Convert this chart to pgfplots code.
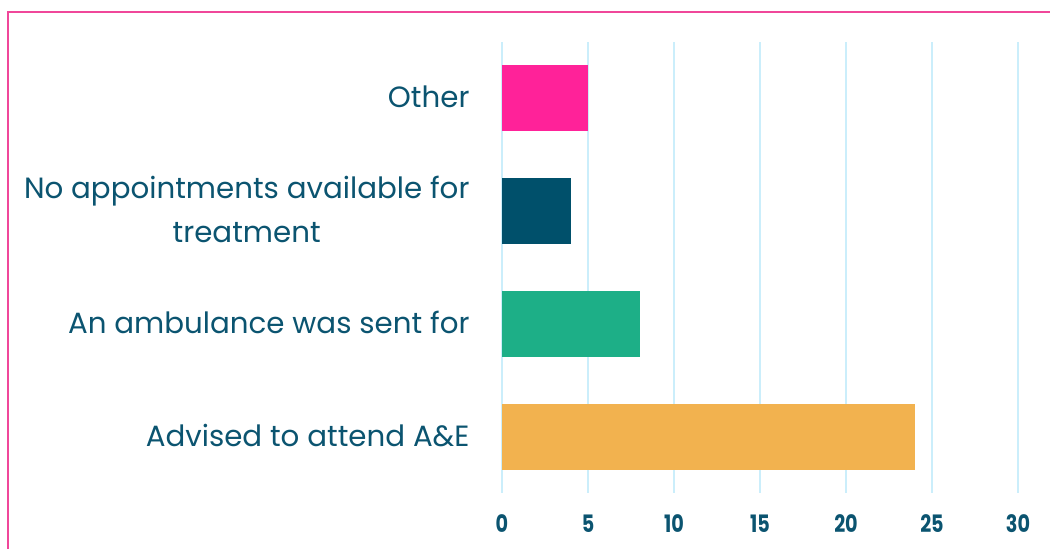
\documentclass[border=0pt]{standalone}
\usepackage{pgfplots}
\pgfplotsset{compat=1.18}
\usepackage{graphicx}
\usepackage{fontspec}
\setmainfont{Poppins}
\definecolor{txt}{HTML}{0B5470}
\definecolor{gridc}{HTML}{CBEEFB}
\definecolor{cpink}{HTML}{FF2299}
\definecolor{cnavy}{HTML}{00506B}
\definecolor{cgreen}{HTML}{1DAF87}
\definecolor{corange}{HTML}{F2B24F}
\definecolor{framec}{HTML}{F0479A}
\begin{document}
\begin{tikzpicture}[x=1pt,y=1pt]
\path[use as bounding box] (0,0) rectangle (1050,549);
\draw[framec, line width=2.2pt] (8,0) -- (8,537) -- (1050,537);
\begin{axis}[
  at={(502pt,56pt)}, anchor=south west,
  scale only axis, width=516pt, height=451pt,
  xbar, bar width=0.585, bar shift=0pt,
  xmin=0, xmax=30, ymin=-0.5, ymax=3.5,
  xtick={0,5,...,30},
  ytick={0,1,2,3},
  yticklabels={Advised to attend A\&E, An ambulance was sent for, {No appointments available for\\treatment}, Other},
  yticklabel style={align=center, font=\fontsize{29.3}{44}\selectfont, text=txt, xshift=-29pt, yshift=1.5pt},
  xticklabel={\scalebox{0.8}[1]{\pgfmathprintnumber{\tick}}},
  xticklabel style={font=\bfseries\fontsize{24}{28}\selectfont, text=txt, yshift=-18pt},
  /pgf/number format/assume math mode=true,
  axis line style={draw=none},
  major tick length=0pt,
  xmajorgrids, grid style={draw=gridc, line width=2pt},
  ymajorgrids=false,
]
\addplot[fill=corange, draw=none] coordinates {(24,0)};
\addplot[fill=cgreen, draw=none] coordinates {(8,1)};
\addplot[fill=cnavy, draw=none] coordinates {(4,2)};
\addplot[fill=cpink, draw=none] coordinates {(5,3)};
\end{axis}
\end{tikzpicture}
\end{document}
